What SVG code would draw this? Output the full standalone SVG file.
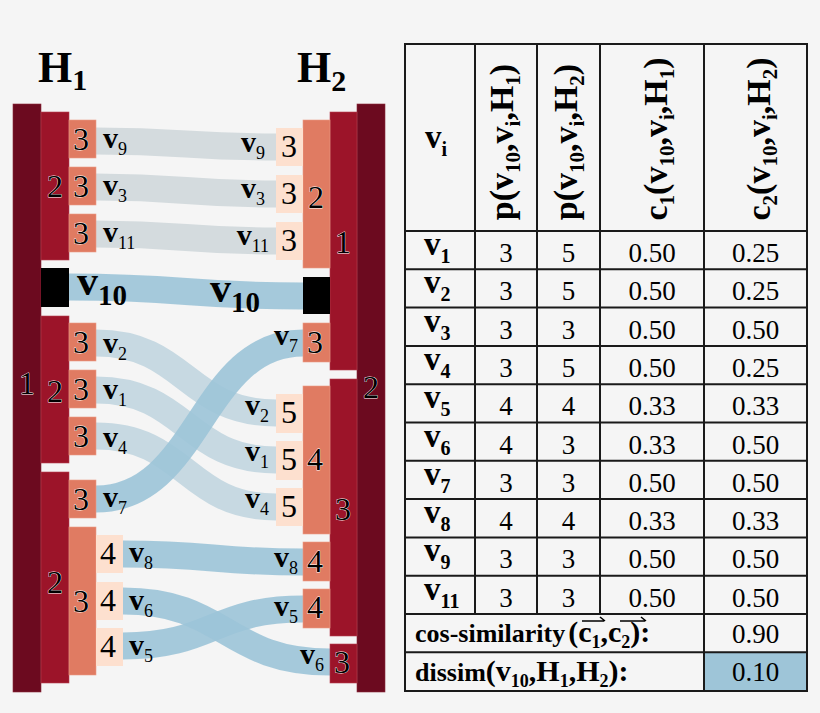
<svg xmlns="http://www.w3.org/2000/svg" width="820" height="713" viewBox="0 0 820 713">
<style>
text{font-family:"Liberation Serif","Times New Roman","DejaVu Serif",serif;fill:#000}
.d1{fill:#6c0a1f;stroke:#8a2a3a;stroke-width:0.6}
.d2{fill:#9c1429;stroke:#b54050;stroke-width:0.6}
.d3{fill:#e07b62;stroke:#ec9c86;stroke-width:0.6}
.d4{fill:#fde0cf}
.blk{fill:#000}
.n{font-size:32px;text-anchor:middle;stroke:#fff;stroke-width:0.8px;paint-order:stroke;stroke-linejoin:round}
.np{font-size:32px;text-anchor:middle}
.v{font-size:30px;font-weight:bold}
.s{font-size:18px}
.vb{font-size:42px;font-weight:bold}
.sb{font-size:29px;font-weight:bold}
.H{font-size:44px;font-weight:bold}
.Hs{font-size:30px;font-weight:bold}
.band{fill:none;stroke-width:27}
.g{stroke:#d4dbde}
.lb{stroke:#c7d9e2}
.b{stroke:#9cc4d8;stroke-opacity:0.9}
.tl{stroke:#1a1a1a;stroke-width:2;fill:none}
.hd{font-size:34px;font-weight:bold;text-anchor:middle}
.hs{font-size:21px;font-weight:bold}
.tv{font-size:33px;font-weight:bold}
.ts{font-size:20px;font-weight:bold}
.val{font-size:27px;text-anchor:middle}
.ft{font-size:26px;font-weight:bold}
.fp{font-size:30px;font-weight:bold}
.fs{font-size:18px;font-weight:bold}
.arr{stroke:#000;stroke-width:1.6;fill:none}
</style>
<rect x="0" y="0" width="820" height="713" fill="#f5f5f5"/>

<g id="connectors">
<path class="band g" d="M96 141 C186 141 186 147 276 147"/>
<path class="band g" d="M96 187 C186 187 186 194 276 194"/>
<path class="band g" d="M96 234 C186 234 186 241 276 241"/>
<path class="band b" d="M69 287 C186 287 186 296 303 296"/>
<path class="band lb" d="M96 343 C186 343 186 413 276 413"/>
<path class="band lb" d="M96 390 C186 390 186 460 276 460"/>
<path class="band lb" d="M96 436 C186 436 186 507 276 507"/>
<path class="band b" d="M96 499 C200 499 200 343 303 343"/>
<path class="band b" d="M123 554 C213 554 213 562 303 562"/>
<path class="band b" d="M123 646 C213 646 213 609 303 609"/>
<path class="band b" d="M123 601 C226 601 226 662 330 662"/>
</g>

<g id="H1-title"><text x="38" y="82"><tspan class="H">H</tspan><tspan class="Hs" dy="8">1</tspan></text></g>
<g id="H2-title"><text x="297" y="82"><tspan class="H">H</tspan><tspan class="Hs" dy="9">2</tspan></text></g>

<g id="h1-root"><rect class="d1" x="13" y="104" width="28" height="588"/><text class="n" x="27" y="394">1</text></g>
<g id="h1-a"><rect class="d2" x="41" y="112" width="28" height="148"/><text class="n" x="55" y="197">2</text></g>
<g id="h1-v10"><rect class="blk" x="41" y="268" width="28" height="39"/></g>
<g id="h1-b"><rect class="d2" x="41" y="316" width="28" height="147"/><text class="n" x="55" y="402">2</text></g>
<g id="h1-c"><rect class="d2" x="41" y="472" width="28" height="211"/><text class="n" x="55" y="593">2</text></g>
<g id="h1-v9"><rect class="d3" x="69" y="120" width="27" height="38"/><text class="n" x="81" y="150">3</text></g>
<g id="h1-v3"><rect class="d3" x="69" y="167" width="27" height="38"/><text class="n" x="81" y="197">3</text></g>
<g id="h1-v11"><rect class="d3" x="69" y="214" width="27" height="38"/><text class="n" x="81" y="244">3</text></g>
<g id="h1-v2"><rect class="d3" x="69" y="323" width="27" height="38"/><text class="n" x="81" y="353">3</text></g>
<g id="h1-v1"><rect class="d3" x="69" y="370" width="27" height="38"/><text class="n" x="81" y="400">3</text></g>
<g id="h1-v4"><rect class="d3" x="69" y="417" width="27" height="38"/><text class="n" x="81" y="447">3</text></g>
<g id="h1-v7"><rect class="d3" x="69" y="480" width="27" height="38"/><text class="n" x="81" y="510">3</text></g>
<g id="h1-c3"><rect class="d3" x="69" y="527" width="27" height="148"/><text class="n" x="81" y="612">3</text></g>
<g id="h1-v8"><rect class="d4" x="96" y="535" width="27" height="38"/><text class="np" x="108" y="564">4</text></g>
<g id="h1-v6"><rect class="d4" x="96" y="582" width="27" height="38"/><text class="np" x="108" y="611">4</text></g>
<g id="h1-v5"><rect class="d4" x="96" y="628" width="27" height="38"/><text class="np" x="108" y="657">4</text></g>

<g id="h2-root"><rect class="d1" x="357" y="104" width="28" height="588"/><text class="n" x="371" y="398">2</text></g>
<g id="h2-a"><rect class="d2" x="330" y="112" width="27" height="258"/><text class="n" x="343" y="253">1</text></g>
<g id="h2-b"><rect class="d2" x="330" y="379" width="27" height="257"/><text class="n" x="343" y="520">3</text></g>
<g id="h2-v6"><rect class="d2" x="330" y="644" width="27" height="39"/><text class="n" x="342" y="673">3</text></g>
<g id="h2-a2"><rect class="d3" x="303" y="120" width="27" height="148"/><text class="n" x="316" y="208">2</text></g>
<g id="h2-v10"><rect class="blk" x="303" y="277" width="27" height="37"/></g>
<g id="h2-v7"><rect class="d3" x="303" y="323" width="27" height="39"/><text class="n" x="315" y="353">3</text></g>
<g id="h2-b4"><rect class="d3" x="303" y="386" width="27" height="148"/><text class="n" x="315" y="470">4</text></g>
<g id="h2-v8"><rect class="d3" x="303" y="542" width="27" height="39"/><text class="n" x="315" y="572">4</text></g>
<g id="h2-v5"><rect class="d3" x="303" y="589" width="27" height="39"/><text class="n" x="315" y="618">4</text></g>
<g id="h2-v9"><rect class="d4" x="276" y="128" width="27" height="38"/><text class="np" x="289" y="157">3</text></g>
<g id="h2-v3"><rect class="d4" x="276" y="175" width="27" height="38"/><text class="np" x="289" y="204">3</text></g>
<g id="h2-v11"><rect class="d4" x="276" y="222" width="27" height="38"/><text class="np" x="289" y="251">3</text></g>
<g id="h2-v2"><rect class="d4" x="276" y="394" width="27" height="39"/><text class="np" x="289" y="423">5</text></g>
<g id="h2-v1"><rect class="d4" x="276" y="441" width="27" height="39"/><text class="np" x="289" y="470">5</text></g>
<g id="h2-v4"><rect class="d4" x="276" y="488" width="27" height="38"/><text class="np" x="289" y="517">5</text></g>

<g id="labels-left">
<text x="103" y="148"><tspan class="v">v</tspan><tspan class="s" dy="7">9</tspan></text>
<text x="103" y="195"><tspan class="v">v</tspan><tspan class="s" dy="7">3</tspan></text>
<text x="103" y="242"><tspan class="v">v</tspan><tspan class="s" dy="7">11</tspan></text>
<text x="77" y="295"><tspan class="vb">v</tspan><tspan class="sb" dy="10">10</tspan></text>
<text x="103" y="353"><tspan class="v">v</tspan><tspan class="s" dy="7">2</tspan></text>
<text x="103" y="399"><tspan class="v">v</tspan><tspan class="s" dy="7">1</tspan></text>
<text x="103" y="447"><tspan class="v">v</tspan><tspan class="s" dy="7">4</tspan></text>
<text x="103" y="507"><tspan class="v">v</tspan><tspan class="s" dy="7">7</tspan></text>
<text x="129" y="562"><tspan class="v">v</tspan><tspan class="s" dy="7">8</tspan></text>
<text x="129" y="610"><tspan class="v">v</tspan><tspan class="s" dy="7">6</tspan></text>
<text x="129" y="655"><tspan class="v">v</tspan><tspan class="s" dy="7">5</tspan></text>
</g>
<g id="labels-right">
<text x="265" y="152" text-anchor="end"><tspan class="v">v</tspan><tspan class="s" dy="7">9</tspan></text>
<text x="265" y="198" text-anchor="end"><tspan class="v">v</tspan><tspan class="s" dy="7">3</tspan></text>
<text x="269" y="245" text-anchor="end"><tspan class="v">v</tspan><tspan class="s" dy="7">11</tspan></text>
<text x="210" y="302"><tspan class="vb">v</tspan><tspan class="sb" dy="10">10</tspan></text>
<text x="298" y="345" text-anchor="end"><tspan class="v">v</tspan><tspan class="s" dy="7">7</tspan></text>
<text x="269" y="415" text-anchor="end"><tspan class="v">v</tspan><tspan class="s" dy="7">2</tspan></text>
<text x="269" y="461" text-anchor="end"><tspan class="v">v</tspan><tspan class="s" dy="7">1</tspan></text>
<text x="269" y="508" text-anchor="end"><tspan class="v">v</tspan><tspan class="s" dy="7">4</tspan></text>
<text x="298" y="567" text-anchor="end"><tspan class="v">v</tspan><tspan class="s" dy="7">8</tspan></text>
<text x="298" y="616" text-anchor="end"><tspan class="v">v</tspan><tspan class="s" dy="7">5</tspan></text>
<text x="324" y="664" text-anchor="end"><tspan class="v">v</tspan><tspan class="s" dy="7">6</tspan></text>
</g>

<g id="table">
<rect x="704" y="652.3" width="103" height="38.7" fill="#9ec5d8"/>
<rect class="tl" x="405" y="44" width="402" height="647"/>
<path class="tl" d="M475 44V614M537 44V614M600 44V614M704 44V691"/>
<path class="tl" d="M405 231H807M405 269.3H807M405 307.6H807M405 345.9H807M405 384.2H807M405 422.5H807M405 460.8H807M405 499.1H807M405 537.4H807M405 575.7H807M405 614H807M405 652.3H807"/>

<text x="425" y="148"><tspan class="tv">v</tspan><tspan class="ts" dy="8">i</tspan></text>
<text class="hd" transform="translate(513 142) rotate(-90)">p(v<tspan class="hs" dy="7">10</tspan><tspan dy="-7">,v</tspan><tspan class="hs" dy="7">i</tspan><tspan dy="-7">,H</tspan><tspan class="hs" dy="7">1</tspan><tspan dy="-7">)</tspan></text>
<text class="hd" transform="translate(577 142) rotate(-90)">p(v<tspan class="hs" dy="7">10</tspan><tspan dy="-7">,v</tspan><tspan class="hs" dy="7">i</tspan><tspan dy="-7">,H</tspan><tspan class="hs" dy="7">2</tspan><tspan dy="-7">)</tspan></text>
<text class="hd" transform="translate(667 139) rotate(-90)">c<tspan class="hs" dy="7">1</tspan><tspan dy="-7">(v</tspan><tspan class="hs" dy="7">10</tspan><tspan dy="-7">,v</tspan><tspan class="hs" dy="7">i</tspan><tspan dy="-7">,H</tspan><tspan class="hs" dy="7">1</tspan><tspan dy="-7">)</tspan></text>
<text class="hd" transform="translate(770 139) rotate(-90)">c<tspan class="hs" dy="7">2</tspan><tspan dy="-7">(v</tspan><tspan class="hs" dy="7">10</tspan><tspan dy="-7">,v</tspan><tspan class="hs" dy="7">i</tspan><tspan dy="-7">,H</tspan><tspan class="hs" dy="7">2</tspan><tspan dy="-7">)</tspan></text>

<text x="424" y="255"><tspan class="tv">v</tspan><tspan class="ts" dy="8">1</tspan></text>
<text x="424" y="293.3"><tspan class="tv">v</tspan><tspan class="ts" dy="8">2</tspan></text>
<text x="424" y="331.6"><tspan class="tv">v</tspan><tspan class="ts" dy="8">3</tspan></text>
<text x="424" y="369.9"><tspan class="tv">v</tspan><tspan class="ts" dy="8">4</tspan></text>
<text x="424" y="408.2"><tspan class="tv">v</tspan><tspan class="ts" dy="8">5</tspan></text>
<text x="424" y="446.5"><tspan class="tv">v</tspan><tspan class="ts" dy="8">6</tspan></text>
<text x="424" y="484.8"><tspan class="tv">v</tspan><tspan class="ts" dy="8">7</tspan></text>
<text x="424" y="523.1"><tspan class="tv">v</tspan><tspan class="ts" dy="8">8</tspan></text>
<text x="424" y="561.4"><tspan class="tv">v</tspan><tspan class="ts" dy="8">9</tspan></text>
<text x="424" y="599.7"><tspan class="tv">v</tspan><tspan class="ts" dy="8">11</tspan></text>

<text class="val" x="506" y="262">3</text><text class="val" x="568.5" y="262">5</text><text class="val" x="652" y="262">0.50</text><text class="val" x="755.5" y="262">0.25</text>
<text class="val" x="506" y="300.3">3</text><text class="val" x="568.5" y="300.3">5</text><text class="val" x="652" y="300.3">0.50</text><text class="val" x="755.5" y="300.3">0.25</text>
<text class="val" x="506" y="338.6">3</text><text class="val" x="568.5" y="338.6">3</text><text class="val" x="652" y="338.6">0.50</text><text class="val" x="755.5" y="338.6">0.50</text>
<text class="val" x="506" y="376.9">3</text><text class="val" x="568.5" y="376.9">5</text><text class="val" x="652" y="376.9">0.50</text><text class="val" x="755.5" y="376.9">0.25</text>
<text class="val" x="506" y="415.2">4</text><text class="val" x="568.5" y="415.2">4</text><text class="val" x="652" y="415.2">0.33</text><text class="val" x="755.5" y="415.2">0.33</text>
<text class="val" x="506" y="453.5">4</text><text class="val" x="568.5" y="453.5">3</text><text class="val" x="652" y="453.5">0.33</text><text class="val" x="755.5" y="453.5">0.50</text>
<text class="val" x="506" y="491.8">3</text><text class="val" x="568.5" y="491.8">3</text><text class="val" x="652" y="491.8">0.50</text><text class="val" x="755.5" y="491.8">0.50</text>
<text class="val" x="506" y="530.1">4</text><text class="val" x="568.5" y="530.1">4</text><text class="val" x="652" y="530.1">0.33</text><text class="val" x="755.5" y="530.1">0.33</text>
<text class="val" x="506" y="568.4">3</text><text class="val" x="568.5" y="568.4">3</text><text class="val" x="652" y="568.4">0.50</text><text class="val" x="755.5" y="568.4">0.50</text>
<text class="val" x="506" y="606.7">3</text><text class="val" x="568.5" y="606.7">3</text><text class="val" x="652" y="606.7">0.50</text><text class="val" x="755.5" y="606.7">0.50</text>

<text x="415" y="642"><tspan class="ft">cos-similarity</tspan><tspan class="fp" dx="3">(c</tspan><tspan class="fs" dy="6">1</tspan><tspan class="fp" dy="-6">,c</tspan><tspan class="fs" dy="6">2</tspan><tspan class="fp" dy="-6">):</tspan></text>
<path class="arr" d="M582 621H604M600 617L605 621"/>
<path class="arr" d="M620 621H645M641 617L646 621"/>
<text class="val" x="755.5" y="643">0.90</text>

<text x="415" y="681"><tspan class="ft">dissim</tspan><tspan class="fp">(v</tspan><tspan class="fs" dy="6">10</tspan><tspan class="fp" dy="-6">,H</tspan><tspan class="fs" dy="6">1</tspan><tspan class="fp" dy="-6">,H</tspan><tspan class="fs" dy="6">2</tspan><tspan class="fp" dy="-6">):</tspan></text>
<text class="val" x="755.5" y="681">0.10</text>
</g>
</svg>
